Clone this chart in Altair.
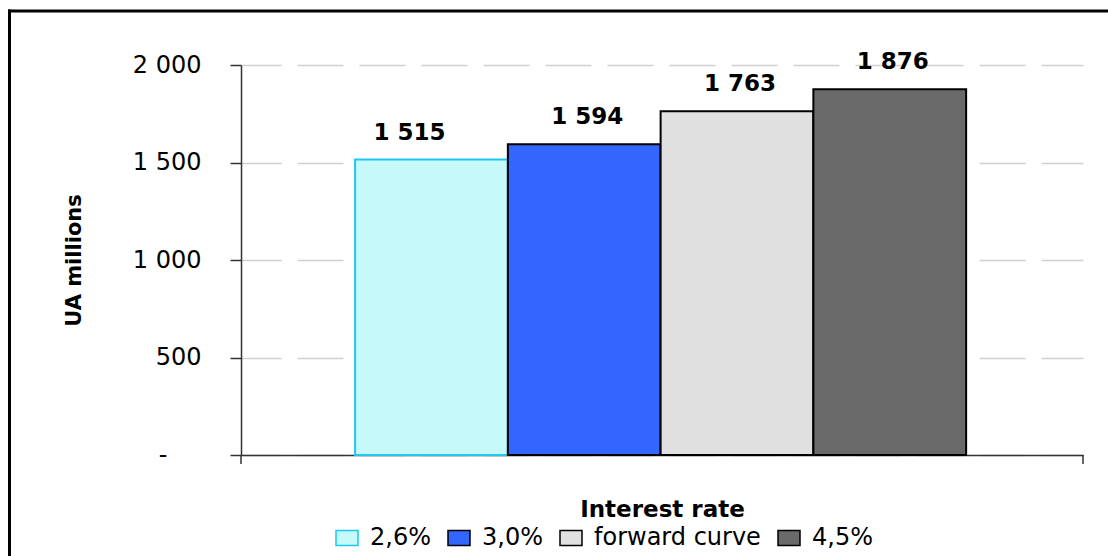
import altair as alt
import pandas as pd

# Scenario values (UA millions) by interest-rate assumption
rates = ["2,6%", "3,0%", "forward curve", "4,5%"]
values = [1515, 1594, 1763, 1876]
fill_colors = ["#C6FAFA", "#3366FF", "#E0E0E0", "#6A6A6A"]
stroke_colors = ["#1EC8F0", "#000000", "#000000", "#000000"]
y_ticks = [0, 500, 1000, 1500, 2000]

FONT = "DejaVu Sans"
W, H = 842, 390
PAD = {"left": 241, "top": 65, "right": 25, "bottom": 101}

df = pd.DataFrame({"rate": rates, "value": values})

legend = alt.Legend(
    orient="none", legendX=94, legendY=461, direction="horizontal", columns=4,
    symbolType="M-1,-0.68H1V0.68H-1Z", symbolSize=484, symbolStrokeWidth=1.5,
    labelFont=FONT, labelFontSize=24, labelColor="black", labelOffset=11,
    labelLimit=400, columnPadding=14, title=None,
)

x_enc = alt.X(
    "rate:N", sort=rates,
    scale=alt.Scale(paddingInner=0, paddingOuter=0.756, align=0.494),
    axis=alt.Axis(
        title="Interest rate", labels=False, ticks=False,
        domainColor="#333333", domainWidth=1.5,
        titleFont=FONT, titleFontSize=23, titleFontWeight="bold", titleColor="black",
        titleBaseline="alphabetic", titleY=61,
    ),
)
y_enc = alt.Y(
    "value:Q",
    scale=alt.Scale(domain=[0, 2000], nice=False),
    axis=alt.Axis(
        values=y_ticks, title="UA millions",
        grid=True, gridDash=[46, 16], gridDashOffset=6, gridColor="#D0D0D0", gridWidth=1.5,
        tickSize=11, tickColor="#333333", tickWidth=1.5,
        domainColor="#333333", domainWidth=1.5,
        labelFont=FONT, labelFontSize=24, labelColor="black",
        labelPadding={"condition": {"test": "datum.value == 0", "value": 63}, "value": 29},
        labelExpr="datum.value == 0 ? '-' : replace(format(datum.value, ','), ',', ' ')",
        titleFont=FONT, titleFontSize=21, titleFontWeight="bold", titleColor="black",
        titleX=-161, titleY=195, titleAngle=270, titleAlign="center", titleBaseline="alphabetic",
    ),
)

base = alt.Chart(df)

bars = base.mark_bar(strokeWidth=2).encode(
    x=x_enc,
    y=y_enc,
    fill=alt.Fill("rate:N", sort=rates, scale=alt.Scale(domain=rates, range=fill_colors), legend=legend),
    stroke=alt.Stroke("rate:N", sort=rates, scale=alt.Scale(domain=rates, range=stroke_colors), legend=legend),
)

labelled = base.transform_calculate(
    label="replace(format(datum.value, ','), ',', ' ')"
)
text_style = dict(font=FONT, fontSize=23, fontWeight="bold", color="black", baseline="alphabetic", dy=-20)
first_label = labelled.transform_filter(alt.datum.rate == rates[0]).mark_text(dx=-22, **text_style).encode(
    x=alt.X("rate:N", sort=rates), y="value:Q", text="label:N"
)
other_labels = labelled.transform_filter(alt.datum.rate != rates[0]).mark_text(dx=3, **text_style).encode(
    x=alt.X("rate:N", sort=rates), y="value:Q", text="label:N"
)

# category-boundary ticks below the x axis
edge = pd.DataFrame({"k": [0]})
tick_left = alt.Chart(edge).mark_rule(color="#333333", strokeWidth=1.5).encode(
    x=alt.value(0), y=alt.value(H), y2=alt.value(H + 9)
)
tick_right = alt.Chart(edge).mark_rule(color="#333333", strokeWidth=1.5).encode(
    x=alt.value(W), y=alt.value(H), y2=alt.value(H + 9)
)

# outer chart frame: top and left edges
frame_left = alt.Chart(edge).mark_rule(color="black", strokeWidth=3).encode(
    x=alt.value(-231.5), y=alt.value(-55.5), y2=alt.value(H + PAD["bottom"])
)
frame_top = alt.Chart(edge).mark_rect(color="black", strokeWidth=0).encode(
    x=alt.value(-233), x2=alt.value(W + PAD["right"] + 10),
    y=alt.value(-55.5), y2=alt.value(-52.5),
)

chart = alt.layer(frame_left, frame_top, bars, first_label, other_labels, tick_left, tick_right).properties(
    width=W, height=H,
    padding=PAD,
    autosize=alt.AutoSizeParams(type="none"),
    background="white",
).configure_view(stroke="transparent")

chart.save("out.html", embed_options={"renderer": "svg", "actions": False})
